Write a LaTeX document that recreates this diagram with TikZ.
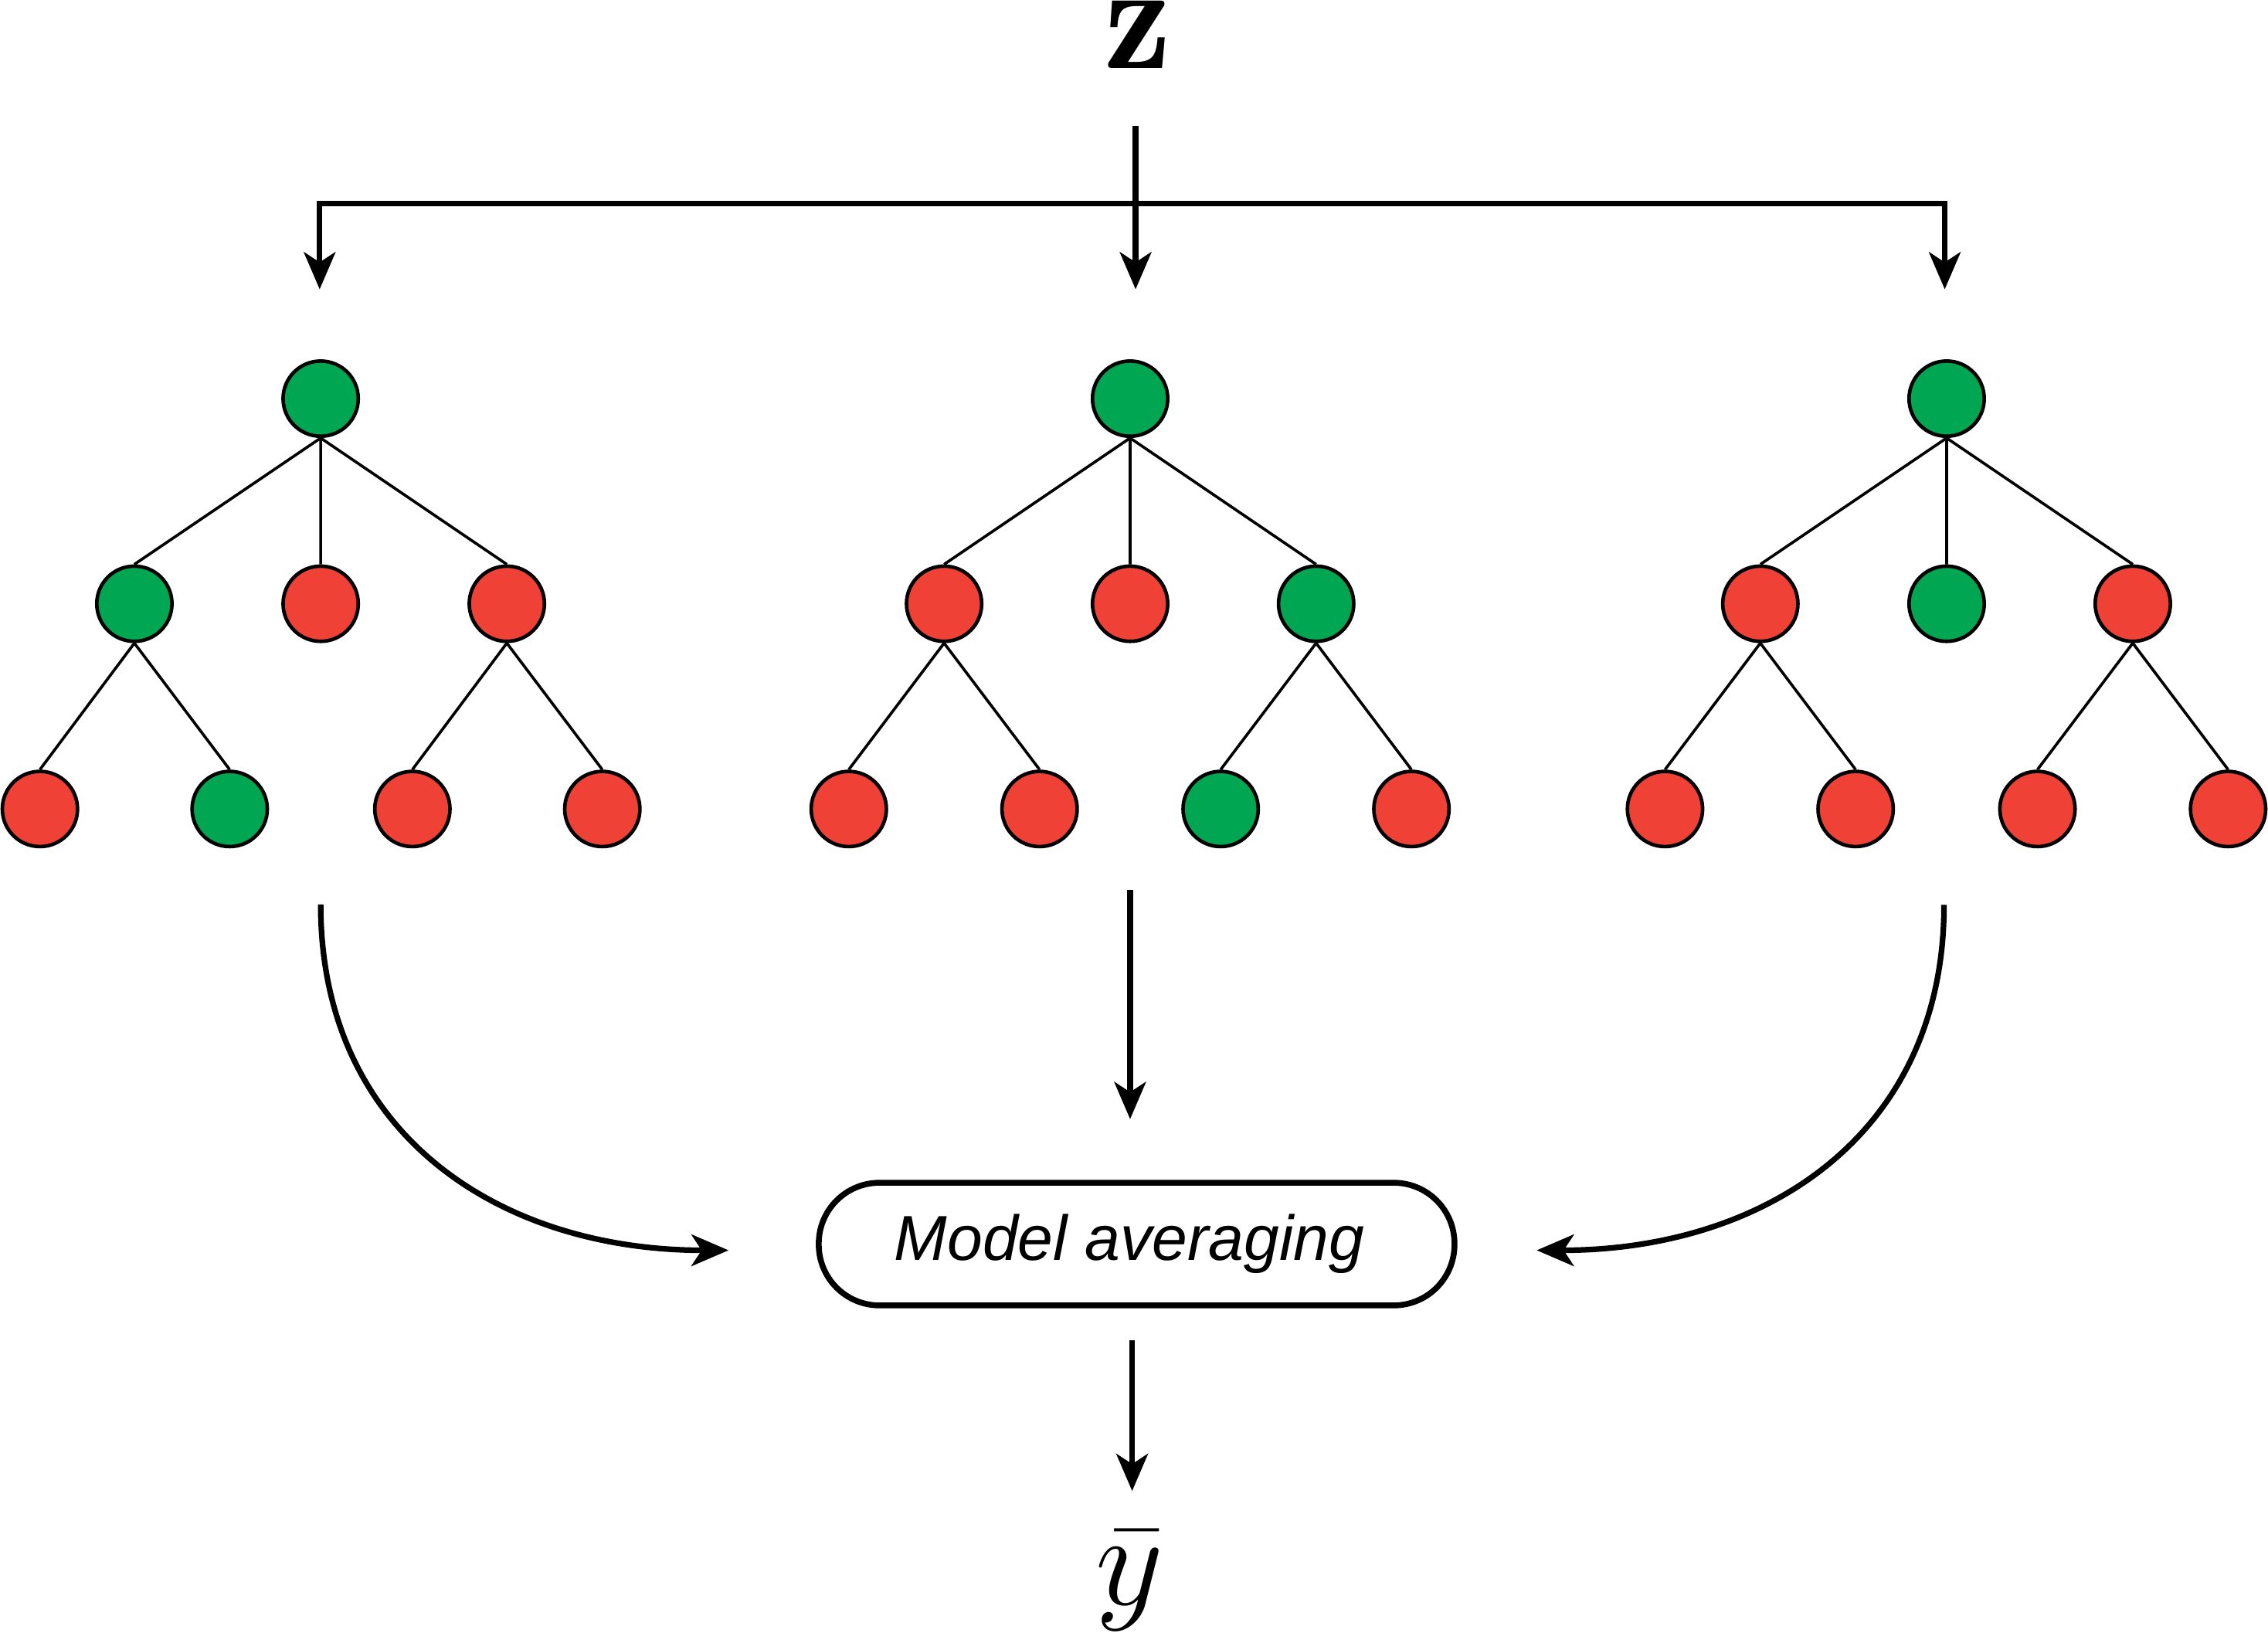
\documentclass[tikz,border=0pt]{standalone}
\usepackage{fontspec}
\newfontfamily\helvfont{Liberation Sans}
\usetikzlibrary{arrows.meta}
\definecolor{TreeGreen}{HTML}{00A651}
\definecolor{TreeRed}{HTML}{EF4136}

\tikzset{
    vert/.style={circle, draw, line width=0.7pt, minimum size=0.52cm, inner sep=0pt},
    gnode/.style={vert, fill=TreeGreen},
    rnode/.style={vert, fill=TreeRed},
    branch/.style={line width=0.55pt},
    flow/.style={line width=1.1pt, -{Stealth[length=7.3pt, width=6.2pt, inset=2pt]}},
    avgbox/.style={draw, line width=1.15pt, rounded corners=0.42cm, minimum width=4.395cm, minimum height=0.848cm, inner sep=0pt, font=\helvfont\itshape\fontsize{12.5}{15}\selectfont},
    bigmath/.style={inner sep=0pt, font=\fontsize{24.88}{30}\selectfont},
}

\begin{document}
\begin{tikzpicture}
    \useasboundingbox (0,0) rectangle (15.68,-11.285);
    % input and the three branches
    \node[bigmath, scale=1.2, anchor=north] (z) at (7.865,0) {$\mathbf{z}$};
    \coordinate (ztop) at (7.851,-0.87);
    \coordinate (bus1) at (2.21,-1.406);
    \coordinate (bus3) at (13.445,-1.406);
    \coordinate (in1) at (2.21,-2.0);
    \coordinate (in2) at (7.851,-2.0);
    \coordinate (in3) at (13.445,-2.0);
    \draw[line width=1.1pt, line cap=rect] (bus1) -- (bus3);
    \draw[flow] (ztop) -- (in2);
    \draw[flow] (bus1) -- (in1);
    \draw[flow] (bus3) -- (in3);

    % tree 1
    \node[gnode] (T1) at (2.217,-2.756) {};
    \node[gnode] (T1a) at (0.929,-4.174) {};
    \node[rnode] (T1b) at (2.217,-4.174) {};
    \node[rnode] (T1c) at (3.504,-4.174) {};
    \node[rnode] (T1aa) at (0.276,-5.593) {};
    \node[gnode] (T1ab) at (1.588,-5.593) {};
    \node[rnode] (T1ca) at (2.851,-5.593) {};
    \node[rnode] (T1cb) at (4.164,-5.593) {};
    \draw[branch] (T1.south) -- (T1a.north) (T1.south) -- (T1b.north) (T1.south) -- (T1c.north)
        (T1a.south) -- (T1aa.north) (T1a.south) -- (T1ab.north)
        (T1c.south) -- (T1ca.north) (T1c.south) -- (T1cb.north);

    % tree 2
    \node[gnode] (T2) at (7.813,-2.756) {};
    \node[rnode] (T2a) at (6.527,-4.174) {};
    \node[rnode] (T2b) at (7.813,-4.174) {};
    \node[gnode] (T2c) at (9.099,-4.174) {};
    \node[rnode] (T2aa) at (5.868,-5.593) {};
    \node[rnode] (T2ab) at (7.187,-5.593) {};
    \node[gnode] (T2ca) at (8.439,-5.593) {};
    \node[rnode] (T2cb) at (9.758,-5.593) {};
    \draw[branch] (T2.south) -- (T2a.north) (T2.south) -- (T2b.north) (T2.south) -- (T2c.north)
        (T2a.south) -- (T2aa.north) (T2a.south) -- (T2ab.north)
        (T2c.south) -- (T2ca.north) (T2c.south) -- (T2cb.north);

    % tree 3
    \node[gnode] (T3) at (13.458,-2.756) {};
    \node[rnode] (T3a) at (12.17,-4.174) {};
    \node[gnode] (T3b) at (13.458,-4.174) {};
    \node[rnode] (T3c) at (14.745,-4.174) {};
    \node[rnode] (T3aa) at (11.511,-5.593) {};
    \node[rnode] (T3ab) at (12.829,-5.593) {};
    \node[rnode] (T3ca) at (14.086,-5.593) {};
    \node[rnode] (T3cb) at (15.404,-5.593) {};
    \draw[branch] (T3.south) -- (T3a.north) (T3.south) -- (T3b.north) (T3.south) -- (T3c.north)
        (T3a.south) -- (T3aa.north) (T3a.south) -- (T3ab.north)
        (T3c.south) -- (T3ca.north) (T3c.south) -- (T3cb.north);

    % averaging of the three outputs
    \node[avgbox] (avg) at (7.858,-8.601) {Model averaging\hspace*{0.1cm}};
    \coordinate (out1) at (2.217,-6.253);
    \coordinate (out2) at (7.813,-6.154);
    \coordinate (out3) at (13.44,-6.256);
    \coordinate (avgL) at (5.037,-8.644);
    \coordinate (avgT) at (7.813,-7.737);
    \coordinate (avgR) at (10.624,-8.644);
    \draw[flow] (out1) to[out=-90, in=180, looseness=1.1] (avgL);
    \draw[flow] (out2) -- (avgT);
    \draw[flow] (out3) to[out=-90, in=0, looseness=1.1] (avgR);

    \node[bigmath, scale=1.045, anchor=south] (ybar) at (7.81,-11.28) {$\bar{y}$};
    \coordinate (avgB) at (7.827,-9.264);
    \coordinate (yin) at (7.827,-10.308);
    \draw[flow] (avgB) -- (yin);
\end{tikzpicture}
\end{document}
